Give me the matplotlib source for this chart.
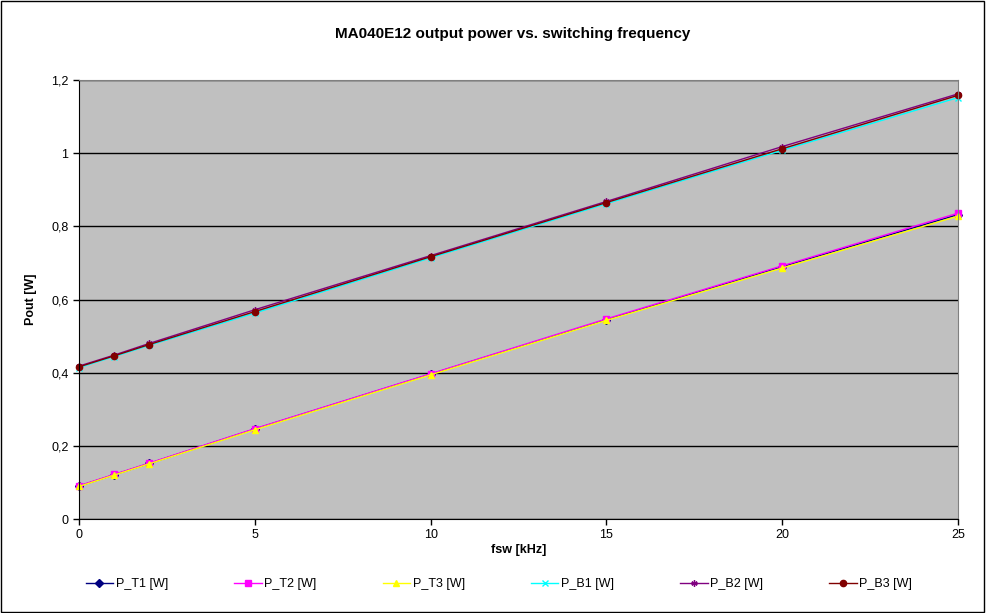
import matplotlib
matplotlib.use('Agg')
import matplotlib.pyplot as plt
from matplotlib.patches import Rectangle
from matplotlib.ticker import FuncFormatter

plt.rcParams['font.family'] = ['Liberation Sans', 'DejaVu Sans']

fsw = [0, 1, 2, 5, 10, 15, 20, 25]
p_t1 = [0.090, 0.121, 0.152, 0.246, 0.396, 0.545, 0.690, 0.832]
p_t2 = [0.091, 0.122, 0.153, 0.247, 0.397, 0.547, 0.692, 0.836]
p_t3 = [0.089, 0.120, 0.151, 0.244, 0.394, 0.543, 0.686, 0.828]
p_b1 = [0.414, 0.444, 0.475, 0.563, 0.714, 0.862, 1.008, 1.152]
p_b2 = [0.418, 0.448, 0.480, 0.572, 0.720, 0.868, 1.018, 1.162]
p_b3 = [0.416, 0.446, 0.477, 0.567, 0.717, 0.865, 1.012, 1.158]

series = [
    ('P_T1 [W]', p_t1, '#000080', 'D'),
    ('P_T2 [W]', p_t2, '#FF00FF', 's'),
    ('P_T3 [W]', p_t3, '#FFFF00', '^'),
    ('P_B1 [W]', p_b1, '#00FFFF', 'x'),
    ('P_B2 [W]', p_b2, '#800080', (6, 2, 0)),
    ('P_B3 [W]', p_b3, '#800000', 'o'),
]

fig = plt.figure(figsize=(9.86, 6.13), dpi=100)
ax = fig.add_axes([0.0801, 0.1533, 0.8915, 0.7162])
ax.set_facecolor('#C0C0C0')

for name, vals, col, mk in series:
    ax.plot(fsw, vals, color=col, marker=mk, markersize=4.5, linewidth=1.0,
            markeredgecolor=col, label=name, clip_on=False)

ax.set_xlim(0, 25)
ax.set_ylim(0, 1.2)
ax.set_xticks([0, 5, 10, 15, 20, 25])
ax.set_yticks([0, 0.2, 0.4, 0.6, 0.8, 1.0, 1.2])
ax.yaxis.set_major_formatter(FuncFormatter(lambda v, p: ('%g' % round(v, 1)).replace('.', ',')))
ax.grid(axis='y', color='black', linewidth=1)
ax.set_axisbelow(True)
ax.tick_params(labelsize=9, length=4, direction='out', width=1)
for s in ['top', 'right']:
    ax.spines[s].set_color('#808080')
for s in ['left', 'bottom']:
    ax.spines[s].set_color('black')

ax.set_xlabel('fsw [kHz]', fontsize=9, fontweight='bold', labelpad=2)
ax.set_ylabel('Pout [W]', fontsize=9, fontweight='bold', labelpad=10)
fig.text(0.52, 0.945, 'MA040E12 output power vs. switching frequency',
         ha='center', va='center', fontsize=11, fontweight='bold')

fig.legend(loc='center', bbox_to_anchor=(0.506, 0.047), ncol=6, frameon=False,
           fontsize=9, handlelength=2.2, columnspacing=5.3, handletextpad=0.2)

fig.patches.append(Rectangle((0.001, 0.002), 0.997, 0.996, transform=fig.transFigure,
                             fill=False, edgecolor='black', linewidth=1))

plt.savefig('out.png', dpi=100)
